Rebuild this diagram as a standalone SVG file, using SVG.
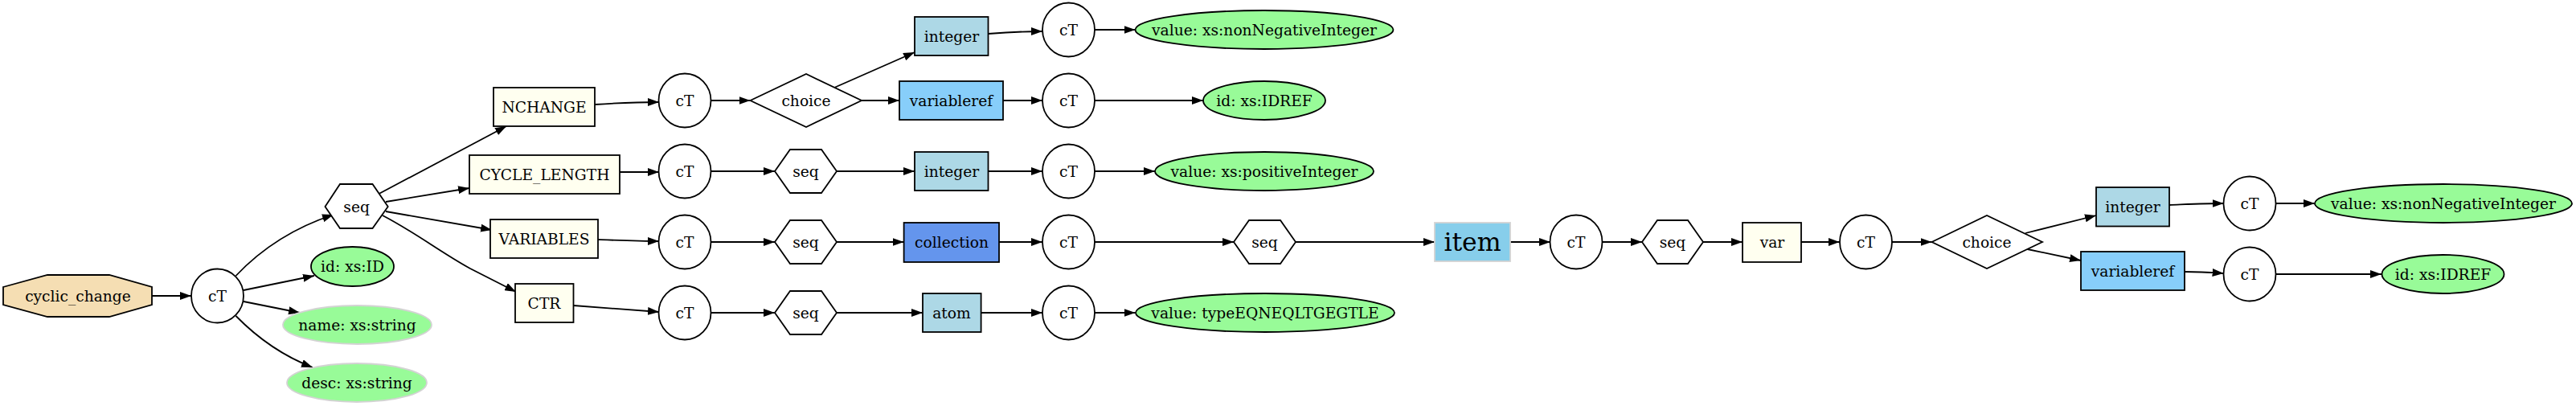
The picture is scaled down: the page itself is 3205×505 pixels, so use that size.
<svg xmlns="http://www.w3.org/2000/svg" width="3205" height="505" viewBox="0 0 3205 505">
<style>
text{font-family:"DejaVu Serif","Liberation Serif",serif;font-size:18.67px;text-anchor:middle;fill:#000}
.n{stroke:#000;stroke-width:1.8}
.box{fill:#fffff0}
.lb{fill:#add8e6}
.vr{fill:#87cefa}
.co{fill:#6495ed}
.ct{fill:#fff}
.gr{fill:#98fb98}
.grl{fill:#98fb98;stroke:#d3d3d3;stroke-width:1.8}
.e path,.e line{fill:none;stroke:#000;stroke-width:1.8;marker-end:url(#ah)}
</style>
<defs>
<marker id="ah" viewBox="0 0 14 10" refX="14" refY="5" markerWidth="14" markerHeight="10" markerUnits="userSpaceOnUse" orient="auto"><path d="M0,0 L14,5 L0,10 z" fill="#000"/></marker>
</defs>
<rect width="3205" height="505" fill="#fff"/>
<g class="e" id="connectors">
<line x1="189" y1="368" x2="238" y2="368"/>
<path d="M293.5,343 C320,315 360,285 415,267"/>
<line x1="303" y1="361" x2="391" y2="343"/>
<line x1="303" y1="375" x2="373" y2="389"/>
<path d="M293.5,393 C320,420 350,442 389,457"/>
<line x1="471.5" y1="241" x2="630" y2="157"/>
<line x1="480" y1="251" x2="584" y2="234"/>
<line x1="480" y1="263" x2="612" y2="286"/>
<path d="M476,268 C515,288 550,315 585,334 L642,363"/>
<path d="M740,130 C770,128 795,127 820,127"/>
<line x1="884.5" y1="125" x2="933.5" y2="125"/>
<line x1="1038" y1="109" x2="1138" y2="65"/>
<line x1="1072" y1="125" x2="1119" y2="125"/>
<path d="M1229.5,42 C1255,40 1275,39 1297,39"/>
<line x1="1362" y1="37" x2="1412.6" y2="37"/>
<line x1="1248" y1="125" x2="1297" y2="125"/>
<line x1="1362" y1="125" x2="1497" y2="125"/>
<line x1="771" y1="214" x2="820" y2="214"/>
<line x1="884.5" y1="213" x2="964" y2="213"/>
<line x1="1041" y1="213" x2="1138" y2="213"/>
<line x1="1229.5" y1="213" x2="1297" y2="213"/>
<line x1="1362" y1="213" x2="1437" y2="213"/>
<path d="M744,298 C770,299 795,300 820,300"/>
<line x1="884" y1="301" x2="964" y2="301"/>
<line x1="1041" y1="301" x2="1124.6" y2="301"/>
<line x1="1243" y1="301" x2="1297" y2="301"/>
<line x1="1362" y1="301" x2="1535" y2="301"/>
<line x1="1612" y1="301" x2="1785" y2="301"/>
<line x1="1878.5" y1="301" x2="1929" y2="301"/>
<line x1="1993" y1="301" x2="2043" y2="301"/>
<line x1="2119" y1="301" x2="2168" y2="301"/>
<line x1="2241" y1="301" x2="2289" y2="301"/>
<line x1="2354" y1="301" x2="2403.5" y2="301"/>
<line x1="2520" y1="290" x2="2608" y2="268"/>
<line x1="2522.5" y1="310" x2="2589" y2="324"/>
<path d="M2699,255 C2725,254 2745,253 2766.6,253"/>
<line x1="2831" y1="253" x2="2880" y2="253"/>
<path d="M2718,338 C2740,338 2752,339 2766.6,340"/>
<line x1="2831" y1="341" x2="2963" y2="341"/>
<line x1="713.5" y1="380" x2="820" y2="388"/>
<line x1="884" y1="389" x2="964" y2="389"/>
<line x1="1041" y1="389" x2="1148" y2="389"/>
<line x1="1220.6" y1="389" x2="1297" y2="389"/>
<line x1="1362" y1="389" x2="1412.6" y2="389"/>
</g>
<g id="cyclic_change"><polygon class="n" fill="#f5deb3" points="4,357 59,342 136,342 189,357 189,379 136,394 59,394 4,379"/><text x="97" y="374.5">cyclic_change</text></g>
<g id="ct0"><ellipse class="n ct" cx="270.5" cy="368" rx="32.5" ry="33.5"/><text x="270.5" y="374.5">cT</text></g>
<g id="attr_id"><ellipse class="n gr" cx="438.5" cy="331.5" rx="51.5" ry="24.5"/><text x="438.5" y="338">id: xs:ID</text></g>
<g id="attr_name"><ellipse class="grl" cx="444.5" cy="404" rx="92.5" ry="24"/><text x="444.5" y="410.5">name: xs:string</text></g>
<g id="attr_desc"><ellipse class="grl" cx="444" cy="476" rx="87" ry="24"/><text x="444" y="482.5">desc: xs:string</text></g>
<g id="seq0"><polygon class="n ct" points="404.5,257 423,229 463.5,229 482.7,257 463.5,284 423,284"/><text x="443.6" y="263.5">seq</text></g>
<g id="nchange"><rect class="n box" x="614" y="109" width="126" height="48"/><text x="677" y="139.5">NCHANGE</text></g>
<g id="cycle_length"><rect class="n box" x="584" y="193" width="187" height="48"/><text x="677.5" y="223.5">CYCLE_LENGTH</text></g>
<g id="variables"><rect class="n box" x="610" y="273" width="134" height="48"/><text x="677" y="303.5">VARIABLES</text></g>
<g id="ctr"><rect class="n box" x="641" y="353" width="72.5" height="48"/><text x="677" y="383.5">CTR</text></g>
<g id="ctB"><ellipse class="n ct" cx="852" cy="125" rx="32.5" ry="33.5"/><text x="852" y="131.5">cT</text></g>
<g id="ctC"><ellipse class="n ct" cx="852" cy="213" rx="32.5" ry="33.5"/><text x="852" y="219.5">cT</text></g>
<g id="ctD"><ellipse class="n ct" cx="852" cy="301" rx="32.5" ry="33.5"/><text x="852" y="307.5">cT</text></g>
<g id="ctE"><ellipse class="n ct" cx="852" cy="389" rx="32.5" ry="33.5"/><text x="852" y="395.5">cT</text></g>
<g id="choiceB"><polygon class="n ct" points="933.5,125 1003,92 1072,125 1003,158"/><text x="1003" y="131.5">choice</text></g>
<g id="seqC"><polygon class="n ct" points="964,213 983,186 1022,186 1041,213 1022,240 983,240"/><text x="1002.5" y="219.5">seq</text></g>
<g id="seqD"><polygon class="n ct" points="964,301 983,274 1022,274 1041,301 1022,328 983,328"/><text x="1002.5" y="307.5">seq</text></g>
<g id="seqE"><polygon class="n ct" points="964,389 983,362 1022,362 1041,389 1022,416 983,416"/><text x="1002.5" y="395.5">seq</text></g>
<g id="integerA"><rect class="n lb" x="1138" y="21" width="91.5" height="48"/><text x="1184" y="51.5">integer</text></g>
<g id="ctA"><ellipse class="n ct" cx="1329.5" cy="37" rx="32.5" ry="33.5"/><text x="1329.5" y="43.5">cT</text></g>
<g id="valA"><ellipse class="n gr" cx="1573" cy="37" rx="160.5" ry="24"/><text x="1573" y="43.5">value: xs:nonNegativeInteger</text></g>
<g id="varrefB"><rect class="n vr" x="1119" y="101" width="129" height="48"/><text x="1183.5" y="131.5">variableref</text></g>
<g id="ctB2"><ellipse class="n ct" cx="1329.5" cy="125" rx="32.5" ry="33.5"/><text x="1329.5" y="131.5">cT</text></g>
<g id="idrefB"><ellipse class="n gr" cx="1573" cy="125" rx="76" ry="24"/><text x="1573" y="131.5">id: xs:IDREF</text></g>
<g id="integerC"><rect class="n lb" x="1138" y="189" width="91.5" height="48"/><text x="1184" y="219.5">integer</text></g>
<g id="ctC2"><ellipse class="n ct" cx="1329.5" cy="213" rx="32.5" ry="33.5"/><text x="1329.5" y="219.5">cT</text></g>
<g id="valC"><ellipse class="n gr" cx="1573" cy="213" rx="136" ry="24"/><text x="1573" y="219.5">value: xs:positiveInteger</text></g>
<g id="collection"><rect class="n co" x="1124.6" y="277" width="118.4" height="49"/><text x="1184" y="307.5">collection</text></g>
<g id="ctD2"><ellipse class="n ct" cx="1329.5" cy="301" rx="32.5" ry="33.5"/><text x="1329.5" y="307.5">cT</text></g>
<g id="seqD2"><polygon class="n ct" points="1535,301 1554,274 1593,274 1612,301 1593,328 1554,328"/><text x="1573.5" y="307.5">seq</text></g>
<g id="atom"><rect class="n lb" x="1148" y="365" width="72.6" height="48"/><text x="1184" y="395.5">atom</text></g>
<g id="ctE2"><ellipse class="n ct" cx="1329.5" cy="389" rx="32.5" ry="33.5"/><text x="1329.5" y="395.5">cT</text></g>
<g id="valE"><ellipse class="n gr" cx="1574" cy="389" rx="161" ry="24"/><text x="1574" y="395.5">value: typeEQNEQLTGEGTLE</text></g>
<g id="item"><rect fill="#87ceeb" stroke="#d3d3d3" stroke-width="1.8" x="1785" y="277" width="94" height="48"/><text x="1832" y="312" style="font-size:31.5px">item</text></g>
<g id="ctI"><ellipse class="n ct" cx="1961" cy="301" rx="32.5" ry="33.5"/><text x="1961" y="307.5">cT</text></g>
<g id="seqI"><polygon class="n ct" points="2043,301 2062,274 2100,274 2119,301 2100,328 2062,328"/><text x="2081" y="307.5">seq</text></g>
<g id="var"><rect class="n box" x="2168" y="277" width="73" height="49"/><text x="2205" y="307.5">var</text></g>
<g id="ctV"><ellipse class="n ct" cx="2321.5" cy="301" rx="32.5" ry="33.5"/><text x="2321.5" y="307.5">cT</text></g>
<g id="choiceV"><polygon class="n ct" points="2403.5,301 2472,268 2541,301 2472,334"/><text x="2472" y="307.5">choice</text></g>
<g id="integerV"><rect class="n lb" x="2608" y="233" width="91" height="48.5"/><text x="2653.5" y="263.5">integer</text></g>
<g id="ctV2"><ellipse class="n ct" cx="2799" cy="253" rx="32.5" ry="33.5"/><text x="2799" y="259.5">cT</text></g>
<g id="valV"><ellipse class="n gr" cx="3040" cy="253" rx="160" ry="24"/><text x="3040" y="259.5">value: xs:nonNegativeInteger</text></g>
<g id="varrefV"><rect class="n vr" x="2589" y="313" width="129" height="48"/><text x="2653.5" y="343.5">variableref</text></g>
<g id="ctV3"><ellipse class="n ct" cx="2799" cy="341" rx="32.5" ry="33.5"/><text x="2799" y="347.5">cT</text></g>
<g id="idrefV"><ellipse class="n gr" cx="3039.5" cy="341" rx="76" ry="24"/><text x="3039.5" y="347.5">id: xs:IDREF</text></g>
</svg>
